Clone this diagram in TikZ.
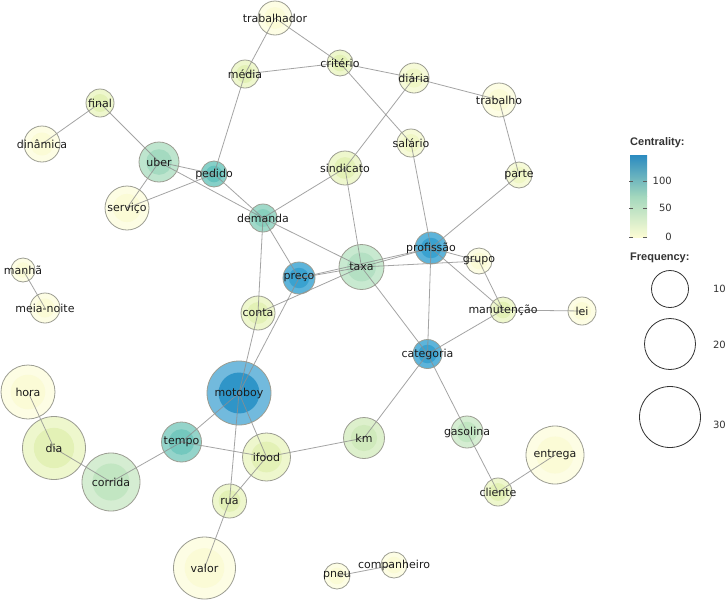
\documentclass[tikz,border=0pt]{standalone}
\usepackage{fontspec}
\setmainfont{DejaVu Sans}
\newfontfamily\legfont{Liberation Sans}
\usetikzlibrary{backgrounds}
\pgfdeclarelayer{fills}
\pgfdeclarelayer{edges}
\pgfsetlayers{fills,edges,main}
% node colours (outer ring / inner disc)
\definecolor{Y0o}{HTML}{FDFDE4}\definecolor{Y0i}{HTML}{FBFBD6}
\definecolor{Y1o}{HTML}{F6FAD8}\definecolor{Y1i}{HTML}{F0F7C6}
\definecolor{Y2o}{HTML}{EEF7CD}\definecolor{Y2i}{HTML}{E3F1B6}
\definecolor{G1o}{HTML}{DDF0CC}\definecolor{G1i}{HTML}{D0EABC}
\definecolor{G2o}{HTML}{D5EDD2}\definecolor{G2i}{HTML}{C2E6C2}
\definecolor{G3o}{HTML}{C8E9D0}\definecolor{G3i}{HTML}{B4E0C3}
\definecolor{G4o}{HTML}{BEE5CE}\definecolor{G4i}{HTML}{A4DAC0}
\definecolor{T1o}{HTML}{A0D9C9}\definecolor{T1i}{HTML}{88D0BE}
\definecolor{T2o}{HTML}{94D4CA}\definecolor{T2i}{HTML}{74C8BE}
\definecolor{T3o}{HTML}{86D0C8}\definecolor{T3i}{HTML}{66C3BD}
\definecolor{B1o}{HTML}{5DB4DA}\definecolor{B1i}{HTML}{3AA2D0}
\definecolor{B2o}{HTML}{72BADD}\definecolor{B2i}{HTML}{2F95C8}
\definecolor{nborder}{HTML}{9C9D92}
\definecolor{edgegray}{HTML}{8E8E8E}
\definecolor{labeltext}{HTML}{1C1C1C}
\definecolor{cbTop}{HTML}{2B8BC0}
\definecolor{cbMid}{HTML}{A2D7BD}
\definecolor{cbBot}{HTML}{FCFCD4}
\definecolor{legdark}{HTML}{333333}
\newcommand\gnode[6]{%
  \begin{pgfonlayer}{fills}
    \fill[#5o] (#2,#3) circle[radius=#4pt];
    \fill[#5i] (#2,#3) circle[radius=0.64*#4pt];
  \end{pgfonlayer}
  \node[gn, minimum size=2*#4pt, label={[lbl]center:#6}] (#1) at (#2,#3) {};
}
\begin{document}
\begin{tikzpicture}[x=1pt,y=-1pt,
  gn/.style={circle, draw=nborder, line width=0.8pt, inner sep=0pt, outer sep=0pt},
  lbl/.style={font=\fontsize{11}{13}\selectfont, text=labeltext, inner sep=0pt},
  edge/.style={draw=edgegray, draw opacity=0.8, line width=0.8pt},
  legtitle/.style={font=\legfont\bfseries\fontsize{11}{13}\selectfont, text=legdark, inner sep=0pt, anchor=west},
  legnum/.style={font=\fontsize{10}{12}\selectfont, text=legdark, inner sep=0pt, anchor=east},
  legcirc/.style={draw=legdark, line width=0.8pt},
  cbtick/.style={draw=legdark!80, line width=0.6pt}]
\useasboundingbox (0,0) rectangle (727,600);
\begin{pgfonlayer}{fills}
\fill[white] (0,0) rectangle (727,600);
\end{pgfonlayer}

% nodes: name, x, y, radius, colour type, label
\gnode{trabalhador}{275}{18}{17}{Y0}{trabalhador}
\gnode{criterio}{340}{63}{13}{Y2}{critério}
\gnode{media}{245}{74}{14}{Y2}{média}
\gnode{diaria}{414}{78}{15}{Y1}{diária}
\gnode{trabalho}{499}{100}{17}{Y0}{trabalho}
\gnode{final}{100}{103}{14}{Y2}{final}
\gnode{salario}{411}{143}{14}{Y1}{salário}
\gnode{dinamica}{42}{144}{18}{Y0}{dinâmica}
\gnode{uber}{159}{162}{20}{G4}{uber}
\gnode{sindicato}{345}{168}{17}{Y2}{sindicato}
\gnode{pedido}{214}{174}{13}{T3}{pedido}
\gnode{parte}{519}{175}{13}{Y1}{parte}
\gnode{servico}{127}{208}{22}{Y0}{serviço}
\gnode{demanda}{263}{218}{14}{T1}{demanda}
\gnode{profissao}{431}{248}{16}{B1}{profissão}
\gnode{grupo}{479}{261}{13}{Y0}{grupo}
\gnode{taxa}{361.5}{267}{22.5}{G3}{taxa}
\gnode{manha}{23}{270}{12}{Y0}{manhã}
\gnode{preco}{299}{278}{16}{B1}{preço}
\gnode{meianoite}{45}{308}{15}{Y0}{meia-noite}
\gnode{manutencao}{503}{310}{13}{Y2}{manutenção}
\gnode{lei}{582}{311}{14}{Y0}{lei}
\gnode{conta}{258}{313}{17}{Y2}{conta}
\gnode{categoria}{427.5}{354}{14.5}{B1}{categoria}
\gnode{hora}{28}{392}{27}{Y0}{hora}
\gnode{motoboy}{239}{393}{32}{B2}{motoboy}
\gnode{km}{364}{438}{20.5}{G1}{km}
\gnode{tempo}{181.5}{442}{20}{T2}{tempo}
\gnode{gasolina}{467}{432}{16}{G2}{gasolina}
\gnode{dia}{54}{448}{31.5}{Y2}{dia}
\gnode{entrega}{555}{455}{29}{Y0}{entrega}
\gnode{ifood}{266.5}{457}{24}{Y2}{ifood}
\gnode{corrida}{111}{482}{29}{G2}{corrida}
\gnode{cliente}{498}{492}{14}{Y2}{cliente}
\gnode{rua}{229.5}{501}{17}{Y2}{rua}
\gnode{valor}{204.5}{568}{31}{Y0}{valor}
\gnode{companheiro}{394}{565}{13}{Y0}{companheiro}
\gnode{pneu}{337}{576}{13}{Y0}{pneu}

% connectors
\begin{pgfonlayer}{edges}
\foreach \a/\b in {trabalhador/media, trabalhador/criterio, media/criterio,
  media/pedido, criterio/diaria, criterio/salario, diaria/trabalho,
  diaria/sindicato, trabalho/parte, parte/profissao, salario/profissao,
  sindicato/demanda, sindicato/taxa, final/dinamica, final/uber,
  uber/servico, uber/pedido, uber/demanda, servico/pedido, pedido/demanda,
  demanda/preco, demanda/conta, demanda/taxa, preco/taxa, preco/profissao,
  taxa/profissao, taxa/grupo, conta/taxa, conta/motoboy, preco/motoboy,
  motoboy/tempo, motoboy/ifood, motoboy/rua, tempo/ifood, tempo/corrida,
  corrida/dia, dia/hora, ifood/rua, ifood/km, rua/valor, km/categoria,
  taxa/categoria, profissao/categoria, profissao/grupo,
  profissao/manutencao, grupo/manutencao, manutencao/categoria,
  manutencao/lei, categoria/gasolina, gasolina/cliente, cliente/entrega,
  pneu/companheiro, manha/meianoite}
  \draw[edge] (\a.center) -- (\b.center);
\end{pgfonlayer}

% legend: centrality
\node[legtitle] (ctitle) at (630,143) {Centrality:};
\shade[bottom color=cbMid, top color=cbTop] (630,155) rectangle (647,196.5);
\shade[bottom color=cbBot, top color=cbMid] (630,196) rectangle (647,237);
\foreach \yy in {181,208,237}{
  \draw[cbtick] (629,\yy) -- (633,\yy);
  \draw[cbtick] (643,\yy) -- (647,\yy);
}
\node[legnum] (c100) at (672,181) {100};
\node[legnum] (c50) at (672,208) {50};
\node[legnum] (c0) at (672,237) {0};

% legend: frequency
\node[legtitle] (ftitle) at (630,258) {Frequency:};
\draw[legcirc] (670,289) circle[radius=18.5pt];
\draw[legcirc] (670,344) circle[radius=25.5pt];
\draw[legcirc] (670,417) circle[radius=30.5pt];
\node[legnum] (f10) at (726,289) {10};
\node[legnum] (f20) at (726,345) {20};
\node[legnum] (f30) at (726,425) {30};
\end{tikzpicture}
\end{document}
